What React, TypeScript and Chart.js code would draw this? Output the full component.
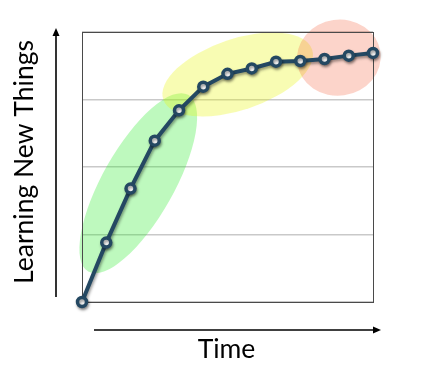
import React, { useEffect, useRef } from "react";
import { Chart, registerables } from "chart.js";

Chart.register(...registerables);

// ---- data ----
const timeSteps = ["0", "1", "2", "3", "4", "5", "6", "7", "8", "9", "10", "11", "12"];
const learningValues = [0, 0.88, 1.68, 2.39, 2.84, 3.19, 3.38, 3.46, 3.56, 3.57, 3.6, 3.65, 3.69];
const yTickValues = [0, 1, 2, 3, 4];
const xTitle = "Time";
const yTitle = "Learning New Things";

// zones (centre in data units)
const zoneCenterX = [2.32, 6.42, 10.59];
const zoneCenterY = [1.76, 3.37, 3.62];
// zone shapes (pixels / degrees) and colours
const zoneRadiusA = [101.5, 78.5, 42];
const zoneRadiusB = [35.7, 35.6, 38];
const zoneAngle = [-60.5, -18.6, -8];
const zoneColors = ["rgba(40,235,40,0.30)", "rgba(232,245,20,0.32)", "rgba(245,95,60,0.27)"];

const LINE_COLOR = "#244862";
const FONT = "Lato, 'Open Sans', sans-serif";

const decorPlugin = {
  id: "decor",
  beforeDatasetsDraw(chart: any) {
    const { ctx, chartArea, scales } = chart;
    const xs = scales.x;
    const ys = scales.y;
    ctx.save();
    for (let i = 0; i < zoneCenterX.length; i++) {
      const cx = xs.getPixelForValue(zoneCenterX[i]);
      const cy = ys.getPixelForValue(zoneCenterY[i]);
      ctx.beginPath();
      ctx.ellipse(cx, cy, zoneRadiusA[i], zoneRadiusB[i], (zoneAngle[i] * Math.PI) / 180, 0, Math.PI * 2);
      ctx.fillStyle = zoneColors[i];
      ctx.fill();
    }
    // plot box
    ctx.strokeStyle = "#4a4a4a";
    ctx.lineWidth = 1;
    ctx.strokeRect(
      Math.round(chartArea.left) + 0.5,
      Math.round(chartArea.top) + 0.5,
      Math.round(chartArea.right - chartArea.left),
      Math.round(chartArea.bottom - chartArea.top)
    );
    ctx.restore();
  },
  beforeDatasetDraw(chart: any) {
    const ctx = chart.ctx;
    ctx.save();
    ctx.shadowColor = "rgba(0,0,0,0.4)";
    ctx.shadowBlur = 3;
    ctx.shadowOffsetX = 1;
    ctx.shadowOffsetY = 2;
  },
  afterDatasetDraw(chart: any) {
    chart.ctx.restore();
  },
  afterDraw(chart: any) {
    const { ctx, chartArea } = chart;
    ctx.save();
    ctx.strokeStyle = "#000";
    ctx.fillStyle = "#000";
    ctx.lineWidth = 1.6;
    // x arrow
    const ay = chartArea.bottom + 28;
    const ax0 = chartArea.left + 12;
    const ax1 = chartArea.right + 8;
    ctx.beginPath();
    ctx.moveTo(ax0, ay);
    ctx.lineTo(ax1 - 6, ay);
    ctx.stroke();
    ctx.beginPath();
    ctx.moveTo(ax1, ay);
    ctx.lineTo(ax1 - 8, ay - 3.5);
    ctx.lineTo(ax1 - 8, ay + 3.5);
    ctx.closePath();
    ctx.fill();
    // y arrow
    const bx = chartArea.left - 26;
    const by0 = chartArea.bottom - 5;
    const by1 = chartArea.top - 4;
    ctx.beginPath();
    ctx.moveTo(bx, by0);
    ctx.lineTo(bx, by1 + 6);
    ctx.stroke();
    ctx.beginPath();
    ctx.moveTo(bx, by1);
    ctx.lineTo(bx - 3.5, by1 + 8);
    ctx.lineTo(bx + 3.5, by1 + 8);
    ctx.closePath();
    ctx.fill();
    // titles
    ctx.font = `26.5px ${FONT}`;
    ctx.textAlign = "center";
    ctx.textBaseline = "alphabetic";
    ctx.fillText(xTitle, (chartArea.left + chartArea.right) / 2 - 1, chartArea.bottom + 56);
    ctx.translate(chartArea.left - 49, (chartArea.top + chartArea.bottom) / 2 - 5);
    ctx.rotate(-Math.PI / 2);
    ctx.fillText(yTitle, 0, 0);
    ctx.restore();
  },
};

export default function App() {
  const canvasRef = useRef<HTMLCanvasElement | null>(null);

  useEffect(() => {
    document.body.style.margin = "0";
    const canvas = canvasRef.current;
    if (!canvas) return;
    const chart = new Chart(canvas, {
      type: "line",
      data: {
        labels: timeSteps,
        datasets: [
          {
            data: learningValues,
            borderColor: LINE_COLOR,
            borderWidth: 4,
            pointRadius: 4.5,
            pointBorderWidth: 3.5,
            pointBackgroundColor: "#ffffff",
            pointBorderColor: LINE_COLOR,
            tension: 0,
            clip: false as any,
          },
        ],
      },
      options: {
        responsive: false,
        animation: false,
        devicePixelRatio: 1,
        layout: { padding: { left: 82, right: 57, top: 32, bottom: 72 } },
        plugins: { legend: { display: false }, tooltip: { enabled: false } },
        scales: {
          x: {
            type: "category",
            offset: false,
            ticks: { display: false },
            grid: { display: false, drawTicks: false },
            border: { display: false },
          },
          y: {
            min: yTickValues[0],
            max: yTickValues[yTickValues.length - 1],
            afterBuildTicks: (scale: any) => {
              scale.ticks = yTickValues.map((v) => ({ value: v }));
            },
            ticks: { display: false },
            grid: { color: "#c9c9c9", lineWidth: 1.5, drawTicks: false },
            border: { display: false },
          },
        },
      },
      plugins: [decorPlugin],
    });
    return () => chart.destroy();
  }, []);

  return (
    <div style={{ position: "absolute", left: 0, top: 0, width: 430, height: 374 }}>
      <canvas ref={canvasRef} width={430} height={374} />
    </div>
  );
}
